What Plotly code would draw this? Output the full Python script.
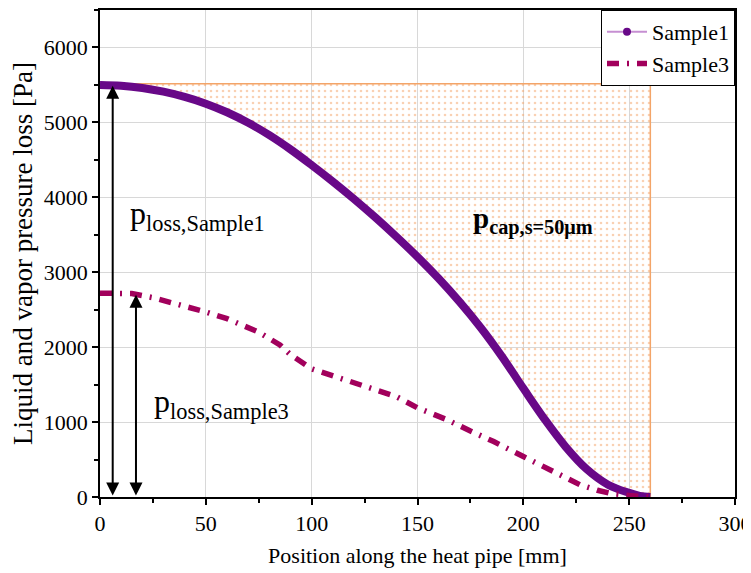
import plotly.graph_objects as go

# ---- data ----
s1_x = [0, 10, 20, 30, 40, 50, 60, 70, 80, 90, 100, 110, 120, 130, 140, 150, 160, 170,
        180, 190, 200, 210, 220, 230, 240, 250, 255, 260]
s1_y = [5500, 5490, 5460, 5410, 5340, 5250, 5135, 4995, 4830, 4640, 4430, 4210, 3978,
        3733, 3475, 3205, 2915, 2600, 2255, 1870, 1450, 1040, 670, 370, 165, 55, 15, 0]

s3_x = [0, 15, 25, 35, 50, 60, 75, 85, 90, 100, 110, 125, 133, 140, 150, 164, 175,
        186, 200, 210, 218, 227, 235, 241, 250, 260]
s3_y = [2720, 2715, 2660, 2590, 2470, 2380, 2200, 2030, 1900, 1710, 1620, 1490, 1400,
        1340, 1190, 1030, 880, 740, 540, 400, 280, 160, 90, 50, 20, 0]

p_cap = 5515
cap_end = 260
arrow1_x, arrow1_top = 6, 5490
arrow2_x, arrow2_top = 17, 2700

x_ticks = [0, 50, 100, 150, 200, 250, 300]
y_ticks = [0, 1000, 2000, 3000, 4000, 5000, 6000]

FONT = "Liberation Serif, Times New Roman, serif"
C1 = "#680888"
C3 = "#a2005c"
ORANGE = "#f3a468"

fig = go.Figure()

# capillary pressure region (dotted fill between curve and cap line)
poly_x = [0, cap_end, cap_end] + s1_x[::-1]
poly_y = [p_cap, p_cap, 0] + s1_y[::-1]
fig.add_trace(go.Scatter(
    x=poly_x, y=poly_y, mode="lines", fill="toself",
    line=dict(color=ORANGE, width=1.5),
    fillcolor="rgba(0,0,0,0)",
    fillpattern=dict(shape=".", fgcolor=ORANGE, bgcolor="rgba(255,255,255,0)",
                     size=6, solidity=0.15),
    showlegend=False, hoverinfo="skip"))

# Sample1 data
fig.add_trace(go.Scatter(
    x=s1_x, y=s1_y, mode="lines", line=dict(color=C1, width=8, shape="spline"),
    showlegend=False))
# Sample3 data
fig.add_trace(go.Scatter(
    x=s3_x, y=s3_y, mode="lines",
    line=dict(color=C3, width=5.5, dash="12px,8px,2px,8px"),
    showlegend=False))

# legend entries
fig.add_trace(go.Scatter(
    x=[None], y=[None], mode="lines+markers", name="Sample1",
    line=dict(color="#c68fd2", width=2), marker=dict(color=C1, size=8)))
fig.add_trace(go.Scatter(
    x=[None], y=[None], mode="lines", name="Sample3",
    line=dict(color=C3, width=5.5, dash="12px,8px,2px,8px")))

# arrows
for ax_x, top in [(arrow1_x, arrow1_top), (arrow2_x, arrow2_top)]:
    fig.add_annotation(x=ax_x, y=top, ax=ax_x, ay=0, xref="x", yref="y",
                       axref="x", ayref="y", showarrow=True, text="",
                       arrowhead=2, startarrowhead=2, arrowside="end+start",
                       arrowsize=1.3, startarrowsize=1.3, arrowwidth=2,
                       arrowcolor="black")

# labels
fig.add_annotation(x=13, y=3760, xref="x", yref="y", xanchor="left", showarrow=False,
                   text="p<sub>loss,Sample1</sub>",
                   font=dict(family=FONT, size=32, color="black"))
fig.add_annotation(x=24.5, y=1250, xref="x", yref="y", xanchor="left", showarrow=False,
                   text="p<sub>loss,Sample3</sub>",
                   font=dict(family=FONT, size=32, color="black"))
fig.add_annotation(x=175.5, y=3690, xref="x", yref="y", xanchor="left", showarrow=False,
                   text="<b>p<sub>cap,s=50μm</sub></b>",
                   font=dict(family=FONT, size=29, color="black"))

axis_common = dict(
    showline=True, linecolor="black", linewidth=1.5, mirror=True,
    ticks="outside", ticklen=6, tickwidth=1.5, tickcolor="black",
    showgrid=True, gridcolor="#d8d8d8", gridwidth=1, zeroline=False,
    tickfont=dict(family=FONT, size=22, color="black"),
    automargin=False, ticklabeloverflow="allow",
)

fig.update_xaxes(range=[0, 300], tickvals=x_ticks,
                 ticktext=[str(v) for v in x_ticks],
                 minor=dict(ticks="outside", ticklen=4, dtick=25, tickcolor="black",
                            showgrid=False),
                 title=dict(text="Position along the heat pipe [mm]",
                            font=dict(family=FONT, size=22, color="black"),
                            standoff=12),
                 **axis_common)
fig.update_yaxes(range=[0, 6500], tickvals=y_ticks,
                 ticktext=[str(v) for v in y_ticks],
                 minor=dict(ticks="outside", ticklen=4, dtick=500, tickcolor="black",
                            showgrid=False),
                 title=dict(text="Liquid and vapor pressure loss [Pa]",
                            font=dict(family=FONT, size=27, color="black"),
                            standoff=12),
                 **axis_common)

fig.update_layout(
    width=743, height=565,
    margin=dict(l=92, r=16, t=2, b=76),
    paper_bgcolor="white", plot_bgcolor="white",
    font=dict(family=FONT, color="black"),
    legend=dict(x=1, y=1, xanchor="right", yanchor="top",
                bgcolor="white", bordercolor="black", borderwidth=1,
                font=dict(family=FONT, size=22, color="black"),
                tracegroupgap=0, itemwidth=40),
)

fig.write_html("out.html")
